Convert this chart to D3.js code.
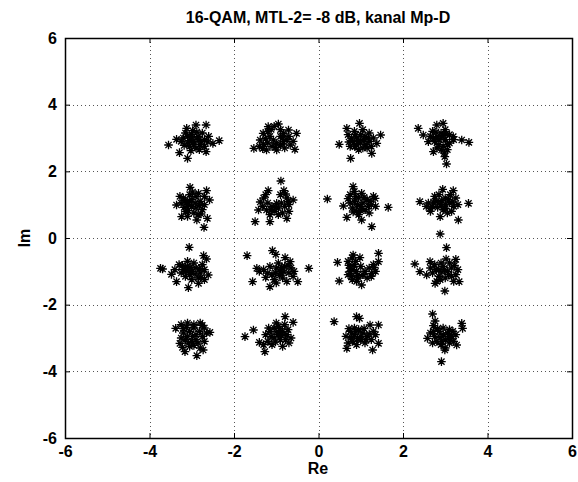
<!DOCTYPE html>
<html>
<head>
<meta charset="utf-8">
<script src="https://cdn.jsdelivr.net/npm/d3@7"></script>
<style>
  body { margin: 0; background: #fff; }
  svg { display: block; }
  text { font-family: "Liberation Sans", Arial, Helvetica, sans-serif; fill: #000; }
</style>
</head>
<body>
<svg id="chart" width="578" height="482"></svg>
<script>
// received symbols, one list per constellation row (Re, Im)
const clusterTopRow = [
  // around (-3, 3)
  [-3.55,2.79],[-3.29,2.56],[-3.10,2.39],[-3.12,3.29],[-2.90,3.39],[-2.66,3.39],[-2.35,2.92],[-2.50,2.84],
  [-2.66,2.59],[-3.36,2.96],[-3.2,3.0],[-3.1,2.85],[-3.0,3.1],[-2.95,2.9],[-2.85,3.05],[-2.8,2.8],
  [-2.75,3.15],[-3.05,2.75],[-2.9,2.7],[-3.15,3.15],[-2.7,2.95],[-2.6,3.05],[-3.0,3.0],[-2.85,2.95],
  [-3.1,3.05],[-2.95,2.8],[-2.7,2.75],[-3.25,2.9],[-3.05,2.92],[-2.88,3.18],[-2.78,2.9],[-3.18,2.78],
  [-2.98,3.22],[-2.62,2.88],[-3.02,2.62],[-2.82,2.65],
  // around (-1, 3)
  [-1.53,2.69],[-1.23,2.64],[-0.99,2.64],[-0.56,2.66],[-0.52,3.14],[-0.71,3.24],[-1.19,3.34],[-0.95,3.42],
  [-1.38,2.94],[-0.83,2.89],[-0.67,2.79],[-1.31,3.14],[-0.83,3.14],[-1.07,2.94],[-1.2,2.85],[-1.1,2.75],
  [-0.9,2.8],[-0.75,2.95],[-1.3,2.8],[-1.2,3.2],[-0.9,3.25],[-1.05,3.35],[-1.15,3.05],[-0.9,3.05],
  [-0.6,2.9],[-1.4,2.75],[-0.8,2.7],[-1.25,2.98],[-1.0,2.85],[-0.85,3.0],[-1.32,2.68],[-0.7,3.05],
  [-1.12,3.26],[-1.02,2.72],
  // around (1, 3)
  [0.49,2.81],[0.76,2.39],[0.97,3.44],[1.47,3.09],[1.38,2.84],[1.26,2.54],[0.67,3.29],[0.86,2.74],
  [0.7,3.1],[0.8,2.9],[0.9,3.0],[1.0,2.85],[1.1,3.05],[1.2,2.9],[0.85,3.2],[1.05,3.25],
  [1.15,2.7],[0.95,2.65],[1.3,3.0],[0.75,2.75],[1.0,3.1],[0.9,2.8],[1.2,3.15],[1.25,2.75],
  [0.78,3.0],[0.95,2.92],[1.08,2.95],[1.12,2.8],[0.88,3.1],[1.05,2.7],[0.72,2.88],[1.18,3.0],
  // around (3, 3)
  [2.36,3.29],[2.48,3.09],[2.60,2.89],[2.72,2.59],[2.99,2.44],[3.03,2.22],[2.95,3.44],[2.80,3.39],
  [3.39,2.94],[3.56,2.87],[3.19,3.04],[2.91,2.64],[2.7,3.2],[2.8,3.05],[2.9,3.15],[3.0,2.95],
  [3.1,3.1],[2.75,2.9],[2.85,2.8],[2.95,2.75],[3.05,2.65],[2.9,3.0],[3.1,2.85],[2.65,3.05],
  [3.0,3.25],[2.8,2.7],[3.2,2.95],[2.85,2.95],[2.95,3.08],[3.05,2.8],[2.78,3.18],[2.98,2.55],
  [3.02,3.12],[2.72,2.98]
];

const clusterUpperMid = [
  // around (-3, 1)
  [-3.04,1.52],[-2.65,1.42],[-2.71,0.32],[-2.63,0.59],[-3.24,0.64],[-3.36,0.99],[-2.58,1.14],[-2.88,0.54],
  [-2.84,1.34],[-3.2,1.2],[-3.1,1.0],[-3.0,1.15],[-2.9,0.9],[-2.8,1.1],[-3.15,0.8],[-2.95,0.75],
  [-2.75,0.85],[-3.05,1.3],[-2.7,1.0],[-3.25,1.05],[-2.9,1.25],[-3.0,0.95],[-2.85,0.7],[-3.1,0.65],
  [-2.7,1.25],[-3.05,1.08],[-2.92,1.05],[-3.18,0.92],[-2.82,0.98],[-3.08,0.82],[-2.98,1.38],[-3.28,1.25],
  [-2.78,0.72],[-3.15,1.12],
  // around (-1, 1)
  [-0.89,1.71],[-0.82,1.42],[-1.19,1.42],[-1.50,0.49],[-1.15,0.49],[-1.42,0.84],[-0.75,0.59],[-0.60,1.14],
  [-0.99,1.04],[-1.23,0.84],[-1.3,1.2],[-1.2,1.05],[-1.1,0.95],[-0.95,0.9],[-0.8,0.95],[-0.7,1.0],
  [-1.05,0.8],[-0.85,0.75],[-1.25,1.3],[-0.75,1.2],[-0.9,1.3],[-1.15,0.7],[-0.7,0.8],[-1.32,0.95],
  [-1.0,0.92],[-0.88,1.05],[-1.12,0.85],[-0.72,1.1],[-0.95,0.7],[-1.38,1.08],[-0.78,1.32],
  // around (1, 1)
  [0.21,1.17],[1.65,0.92],[1.26,0.34],[1.02,0.54],[0.59,0.96],[0.67,0.62],[0.82,1.54],[1.02,1.34],
  [1.34,1.19],[0.75,1.3],[0.85,1.1],[0.95,1.2],[1.05,1.05],[1.15,1.15],[1.25,1.0],[0.8,0.9],
  [0.9,0.8],[1.0,0.95],[1.1,0.85],[1.3,1.25],[0.85,1.4],[1.2,0.75],[0.95,0.7],[1.35,0.95],
  [0.75,1.05],[0.92,1.0],[1.08,1.22],[0.88,1.25],[1.18,0.95],[0.7,1.18],[1.0,0.82],[1.22,1.1],
  [0.82,0.78],
  // around (3, 1)
  [2.40,1.09],[3.55,1.04],[2.88,0.12],[2.94,1.46],[3.19,1.42],[2.88,0.64],[3.31,0.54],[2.64,0.89],
  [2.6,1.05],[2.7,0.95],[2.8,1.1],[2.9,1.0],[3.0,1.2],[3.1,1.05],[3.2,0.95],[2.75,1.25],
  [2.95,0.85],[3.05,0.75],[3.25,1.2],[2.85,1.3],[3.15,0.8],[2.65,0.8],[3.3,1.0],[3.0,1.0],
  [2.82,0.92],[3.08,1.15],[2.92,1.12],[3.18,1.08],[2.72,1.08],[3.0,0.88],[2.55,0.95],[3.12,1.3]
];

const clusterLowerMid = [
  // around (-3, -1)
  [-3.06,-0.28],[-3.74,-0.91],[-3.48,-1.09],[-3.36,-1.31],[-3.08,-1.49],[-2.72,-0.53],[-2.65,-0.63],[-2.84,-1.36],
  [-2.61,-1.11],[-3.69,-0.93],[-3.3,-0.8],[-3.2,-0.95],[-3.1,-0.85],[-3.0,-1.0],[-2.9,-0.9],[-2.8,-1.05],
  [-2.7,-0.95],[-3.15,-1.15],[-3.0,-1.25],[-2.85,-1.2],[-3.25,-1.05],[-2.95,-0.75],[-2.75,-0.8],[-3.1,-0.7],
  [-2.7,-1.25],[-3.05,-1.1],[-3.12,-0.98],[-2.92,-1.08],[-2.82,-0.92],[-3.22,-0.82],[-3.02,-0.88],[-2.78,-1.18],
  [-3.4,-0.95],
  // around (-1, -1)
  [-1.69,-0.53],[-0.23,-0.91],[-1.09,-0.38],[-1.01,-0.49],[-0.79,-0.59],[-1.56,-1.31],[-1.15,-1.46],[-0.49,-1.31],
  [-1.46,-0.91],[-0.67,-0.71],[-1.4,-1.0],[-1.3,-0.95],[-1.2,-1.05],[-1.1,-1.1],[-1.0,-0.9],[-0.9,-1.0],
  [-0.8,-0.85],[-0.7,-1.05],[-0.6,-1.15],[-1.05,-1.25],[-0.85,-1.2],[-0.95,-0.75],[-1.15,-0.85],[-0.75,-1.3],
  [-0.65,-0.9],[-1.0,-1.35],[-0.92,-1.12],[-0.82,-1.02],[-0.72,-0.82],[-1.02,-1.05],[-0.88,-0.88],[-1.25,-1.18],
  [-0.58,-1.0],
  // around (1, -1)
  [0.45,-0.73],[0.49,-1.29],[1.42,-0.46],[1.42,-0.71],[1.02,-1.41],[0.82,-0.51],[0.98,-0.59],[1.26,-1.06],
  [0.7,-0.7],[0.75,-0.9],[0.7,-1.1],[0.8,-1.25],[0.85,-0.8],[0.9,-1.0],[0.95,-1.2],[1.0,-0.85],
  [1.1,-1.0],[1.2,-0.9],[1.3,-0.8],[1.35,-1.0],[1.25,-1.15],[0.8,-0.6],[0.9,-1.3],[1.05,-1.1],
  [0.75,-1.0],[0.82,-0.95],[0.78,-1.15],[0.88,-0.7],[0.72,-0.82],[0.92,-1.12],[1.32,-0.88],[1.15,-1.2],
  // around (3, -1)
  [2.28,-0.78],[2.40,-1.01],[2.56,-1.11],[3.03,-0.29],[3.02,-0.63],[3.25,-0.64],[3.33,-1.31],[2.99,-1.59],
  [2.76,-1.36],[2.64,-0.71],[2.65,-0.9],[2.75,-0.8],[2.85,-0.95],[2.95,-0.85],[3.05,-1.0],[3.15,-0.9],
  [3.3,-0.95],[2.7,-1.05],[2.85,-1.15],[3.0,-1.2],[3.15,-1.15],[3.25,-1.1],[2.9,-0.75],[3.1,-0.75],
  [2.8,-1.3],[3.2,-1.3],[2.92,-1.02],[3.08,-1.1],[2.78,-0.95],[3.22,-0.82],[2.98,-0.95],[2.88,-1.25]
];

const clusterBottomRow = [
  // around (-3, -3)
  [-3.38,-2.71],[-2.57,-2.83],[-2.88,-3.53],[-3.16,-3.41],[-2.73,-3.36],[-3.28,-3.16],[-3.25,-2.6],[-3.1,-2.55],
  [-2.95,-2.6],[-2.8,-2.55],[-2.7,-2.7],[-3.2,-2.85],[-3.05,-2.8],[-2.9,-2.9],[-2.75,-2.95],[-3.15,-3.05],
  [-3.0,-3.1],[-2.85,-3.15],[-2.7,-3.1],[-3.25,-3.0],[-3.05,-3.25],[-2.8,-3.3],[-2.95,-2.7],[-3.1,-2.95],
  [-2.65,-2.85],[-2.98,-2.95],[-3.12,-2.68],[-2.82,-2.8],[-3.2,-2.72],[-2.9,-3.05],[-3.08,-3.15],[-2.75,-2.62],
  [-2.95,-3.22],[-3.22,-3.28],
  // around (-1, -3)
  [-1.74,-2.96],[-1.54,-2.76],[-1.40,-3.13],[-1.27,-3.41],[-0.79,-2.36],[-0.60,-2.53],[-1.25,-2.9],[-1.15,-2.8],
  [-1.05,-2.7],[-0.95,-2.65],[-0.85,-2.8],[-0.75,-2.9],[-1.2,-3.1],[-1.05,-3.0],[-0.9,-3.05],[-0.7,-3.15],
  [-1.1,-3.2],[-0.95,-2.9],[-0.8,-2.6],[-0.65,-3.0],[-1.3,-3.2],[-0.85,-3.25],[-1.0,-2.55],[-1.0,-2.82],
  [-0.88,-2.92],[-1.12,-2.95],[-0.78,-3.05],[-0.92,-2.72],[-1.18,-2.7],[-0.72,-2.75],[-1.02,-3.12],
  // around (1, -3)
  [0.37,-2.51],[0.90,-2.36],[0.97,-2.41],[1.22,-2.61],[1.42,-2.61],[1.42,-3.16],[1.28,-3.36],[0.67,-3.31],
  [0.65,-2.95],[0.75,-2.8],[0.85,-2.9],[0.95,-2.75],[1.05,-2.85],[1.15,-2.95],[1.3,-2.8],[0.8,-3.1],
  [0.9,-3.2],[1.0,-3.05],[1.1,-3.15],[1.25,-3.05],[0.7,-3.15],[1.35,-2.9],[1.0,-2.95],[0.85,-2.7],
  [0.92,-3.02],[0.78,-2.98],[1.08,-2.72],[1.2,-2.88],[0.88,-2.82],[1.12,-3.05],[0.72,-2.72],
  // around (3, -3)
  [2.70,-2.28],[2.76,-2.49],[2.72,-2.63],[3.39,-2.56],[3.41,-2.71],[3.27,-3.21],[2.99,-3.36],[2.91,-3.71],
  [2.58,-3.01],[2.65,-2.85],[2.75,-2.95],[2.85,-2.8],[2.95,-2.9],[3.05,-2.85],[3.15,-2.95],[3.25,-2.9],
  [2.8,-3.1],[2.9,-3.2],[3.0,-3.05],[3.1,-3.15],[3.2,-3.1],[2.95,-2.7],[3.1,-2.75],[2.7,-3.15],
  [3.0,-3.3],[2.88,-2.98],[3.08,-2.95],[2.82,-2.72],[3.18,-2.8],[2.92,-3.1],[2.72,-2.8],[3.12,-3.02]
];

const xTicks = [-6, -4, -2, 0, 2, 4, 6];
const yTicks = [-6, -4, -2, 0, 2, 4, 6];

const points = [].concat(clusterTopRow, clusterUpperMid, clusterLowerMid, clusterBottomRow);

const svg = d3.select("#chart");
const plotLeft = 65, plotRight = 572, plotTop = 38, plotBottom = 438;

const x = d3.scaleLinear().domain([-6, 6]).range([plotLeft, plotRight]);
const y = d3.scaleLinear().domain([-6, 6]).range([plotBottom, plotTop]);

// dotted grid
const grid = svg.append("g").attr("stroke", "#555").attr("stroke-width", 1)
  .attr("stroke-dasharray", "1,3").attr("shape-rendering", "crispEdges");
grid.selectAll(".gx").data(xTicks.slice(1, -1)).enter().append("line")
  .attr("x1", d => Math.round(x(d)) + 0.5).attr("x2", d => Math.round(x(d)) + 0.5)
  .attr("y1", plotTop).attr("y2", plotBottom);
grid.selectAll(".gy").data(yTicks.slice(1, -1)).enter().append("line")
  .attr("y1", d => Math.round(y(d)) + 0.5).attr("y2", d => Math.round(y(d)) + 0.5)
  .attr("x1", plotLeft).attr("x2", plotRight);

// axes with inward ticks, plain hyphen minus like the original
const tickLen = 5;
const fmt = d => String(d);
const axB = svg.append("g").attr("transform", `translate(0,${plotBottom})`)
  .call(d3.axisBottom(x).tickValues(xTicks).tickSizeInner(-tickLen).tickSizeOuter(0).tickPadding(8).tickFormat(fmt));
svg.append("g").attr("transform", `translate(0,${plotTop})`)
  .call(d3.axisTop(x).tickValues(xTicks).tickSizeInner(-tickLen).tickSizeOuter(0).tickFormat(""));
svg.append("g").attr("transform", `translate(${plotLeft},0)`)
  .call(d3.axisLeft(y).tickValues(yTicks).tickSizeInner(-tickLen).tickSizeOuter(0).tickPadding(8).tickFormat(fmt));
svg.append("g").attr("transform", `translate(${plotRight},0)`)
  .call(d3.axisRight(y).tickValues(yTicks).tickSizeInner(-tickLen).tickSizeOuter(0).tickFormat(""));

svg.selectAll(".domain").remove();
svg.selectAll(".tick line").attr("stroke", "#000");
svg.selectAll(".tick text")
  .style("font-size", "16px").style("font-weight", "bold")
  .style("font-family", "'Liberation Sans', Arial, sans-serif");
axB.selectAll(".tick text").attr("dy", "0.7em");

// frame
svg.append("rect")
  .attr("x", plotLeft + 0.5).attr("y", plotTop + 0.5)
  .attr("width", plotRight - plotLeft).attr("height", plotBottom - plotTop)
  .attr("fill", "none").attr("stroke", "#000").attr("stroke-width", 1.5);

// asterisk markers
const r = 4.3, dg = 3.1;
const star = `M${-r},0L${r},0M0,${-r}L0,${r}M${-dg},${-dg}L${dg},${dg}M${-dg},${dg}L${dg},${-dg}`;
svg.append("g").selectAll("path").data(points).enter().append("path")
  .attr("d", star)
  .attr("transform", d => `translate(${x(d[0])},${y(d[1])})`)
  .attr("fill", "none").attr("stroke", "#000").attr("stroke-width", 1.3);

// labels
svg.append("text").attr("x", 318).attr("y", 23).attr("text-anchor", "middle")
  .style("font-size", "16px").style("font-weight", "bold")
  .text("16-QAM, MTL-2= -8 dB, kanal Mp-D");
svg.append("text").attr("x", 318).attr("y", 474).attr("text-anchor", "middle")
  .style("font-size", "16px").style("font-weight", "bold").text("Re");
svg.append("text").attr("transform", "translate(30,238) rotate(-90)").attr("text-anchor", "middle")
  .style("font-size", "16px").style("font-weight", "bold").text("Im");
</script>
</body>
</html>
